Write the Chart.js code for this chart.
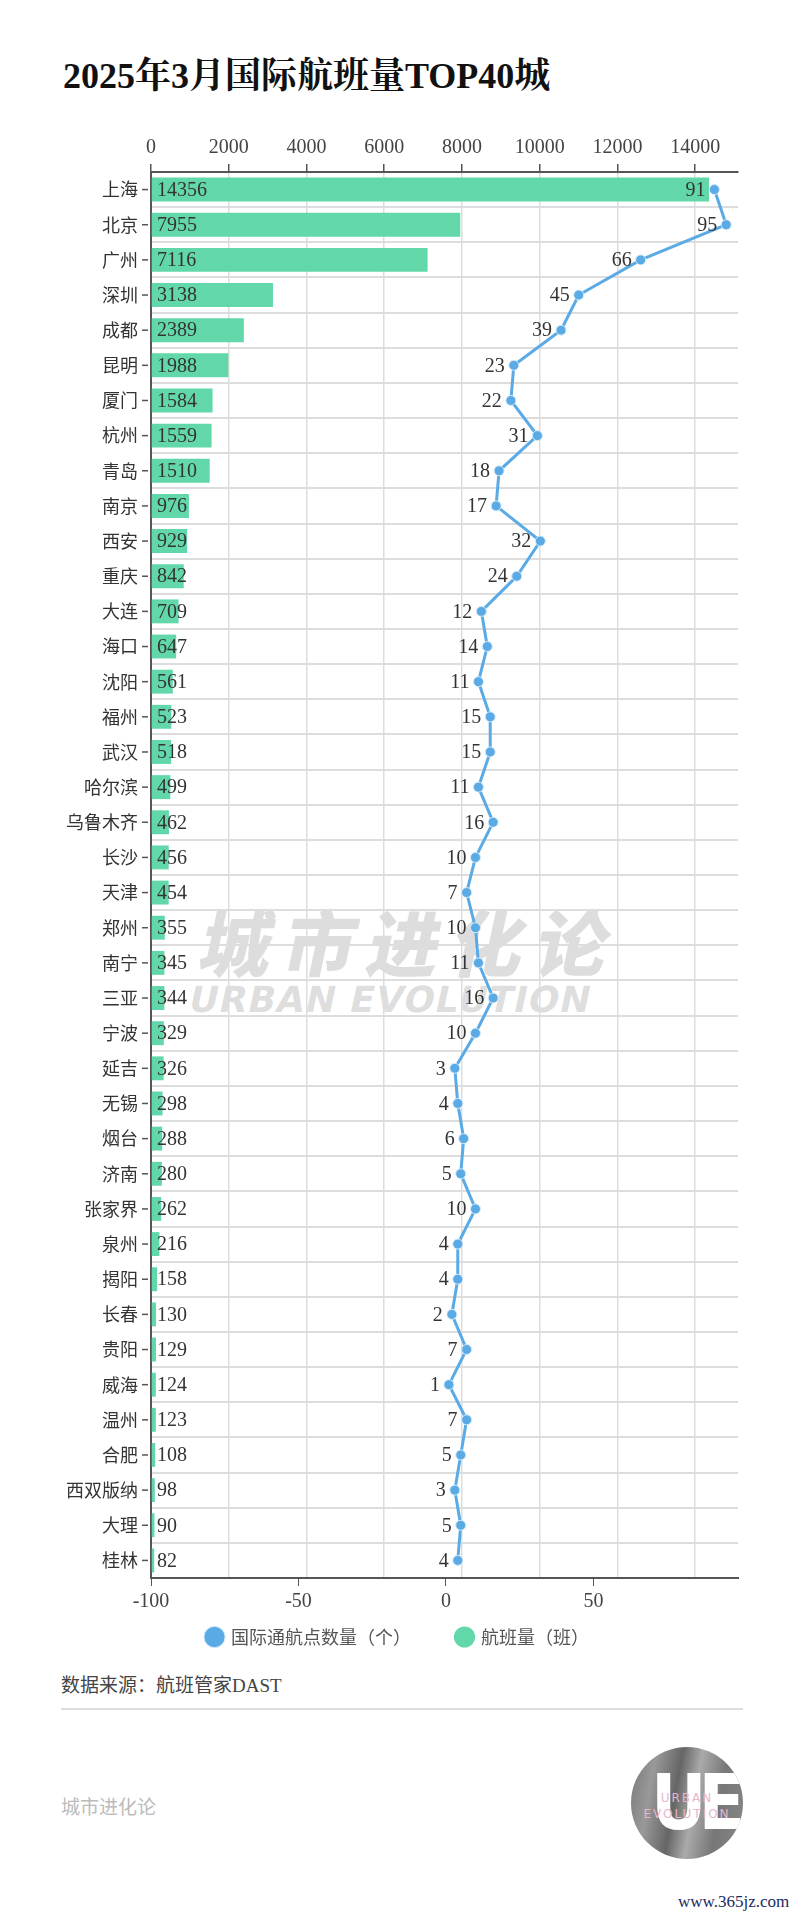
<!DOCTYPE html>
<html>
<head>
<meta charset="utf-8">
<script src="https://cdn.jsdelivr.net/npm/chart.js@4.4.1/dist/chart.umd.min.js"></script>
<style>
  body { margin: 0; background: #fff; width: 800px; height: 1920px; position: relative; overflow: hidden; }
  #title { position: absolute; left: 63px; top: 55px; font: bold 36px 'Liberation Serif', 'Noto Serif CJK SC', 'Noto Sans CJK SC'; color: #111; line-height: 42px; }
  #wm { position: absolute; left: 198px; top: 900px; color: rgba(150,150,150,0.32); transform: skewX(-12deg); font-family: 'Noto Sans CJK SC'; font-weight: 900; }
  #wm .cn { font-size: 72px; letter-spacing: 12px; line-height: 80px; }
  #wm .en { font-size: 36px; letter-spacing: 1px; line-height: 40px; font-family: 'DejaVu Sans'; font-weight: bold; }
  #box { position: absolute; left: 61px; top: 128px; width: 683px; height: 1528px; }
  #src { position: absolute; left: 61px; top: 1670px; font: 19px 'Liberation Serif', 'Noto Sans CJK SC'; color: #444; }
  #sep { position: absolute; left: 61px; top: 1708px; width: 682px; height: 2px; background: #ddd; }
  #brand { position: absolute; left: 61px; top: 1792px; font: 19px 'Noto Sans CJK SC'; color: #bbb; }
  #logo { position: absolute; left: 631px; top: 1747px; width: 112px; height: 112px; border-radius: 50%; overflow: hidden;
    background: linear-gradient(100deg, #777 0%, #999 20%, #666 40%, #aaa 55%, #777 75%, #888 100%); }
  #logo .ue { position: absolute; left: 20px; top: 8px; font: bold 76px 'DejaVu Sans Condensed', 'DejaVu Sans'; color: #fff; letter-spacing: -8px; line-height: 96px; }
  #logo .t { position: absolute; width: 112px; text-align: center; font: 12px 'DejaVu Sans'; color: #e7b6c9; letter-spacing: 2px; }
  #site { position: absolute; left: 678px; top: 1892px; font: 17px 'Liberation Serif', serif; color: #1b2b5e; }
</style>
</head>
<body>
<div id="title">2025年3月国际航班量TOP40城</div>
<div id="wm"><div class="cn">城市进化论</div><div class="en">URBAN EVOLUTION</div></div>
<div id="box"><canvas id="chart"></canvas></div>
<div id="src">数据来源：航班管家DAST</div>
<div id="sep"></div>
<div id="brand">城市进化论</div>
<div id="logo"><div class="ue">UE</div><div class="t" style="top:44px">URBAN</div><div class="t" style="top:60px">EVOLUTION</div></div>
<div id="site">www.365jz.com</div>
<script>
const cities = ['上海', '北京', '广州', '深圳', '成都', '昆明', '厦门', '杭州', '青岛', '南京',
  '西安', '重庆', '大连', '海口', '沈阳', '福州', '武汉', '哈尔滨', '乌鲁木齐', '长沙',
  '天津', '郑州', '南宁', '三亚', '宁波', '延吉', '无锡', '烟台', '济南', '张家界',
  '泉州', '揭阳', '长春', '贵阳', '威海', '温州', '合肥', '西双版纳', '大理', '桂林'];
const flights = [14356, 7955, 7116, 3138, 2389, 1988, 1584, 1559, 1510, 976,
  929, 842, 709, 647, 561, 523, 518, 499, 462, 456,
  454, 355, 345, 344, 329, 326, 298, 288, 280, 262,
  216, 158, 130, 129, 124, 123, 108, 98, 90, 82];
const routes = [91, 95, 66, 45, 39, 23, 22, 31, 18, 17,
  32, 24, 12, 14, 11, 15, 15, 11, 16, 10,
  7, 10, 11, 16, 10, 3, 4, 6, 5, 10,
  4, 4, 2, 7, 1, 7, 5, 3, 5, 4];
const flightTicks = [0, 2000, 4000, 6000, 8000, 10000, 12000, 14000];
const routeTicks = [-100, -50, 0, 50];

const numFont = "'Liberation Serif', serif";
const blue = '#5aaae6';
const green = '#62d8aa';

const labelPlugin = {
  id: 'valueLabels',
  afterDatasetsDraw(chart) {
    const ctx = chart.ctx;
    const x = chart.scales.x;
    const y = chart.scales.y;
    ctx.save();
    ctx.font = '20px ' + numFont;
    ctx.fillStyle = '#333';
    ctx.textBaseline = 'middle';
    ctx.textAlign = 'left';
    chart.getDatasetMeta(1).data.forEach((el, i) => {
      ctx.fillText(flights[i], x.left + 6, el.y + 1);
    });
    ctx.textAlign = 'right';
    chart.getDatasetMeta(0).data.forEach((el, i) => {
      ctx.fillText(routes[i], el.x - 9, el.y + 1);
    });
    // short tick dashes next to the city names
    ctx.strokeStyle = '#555';
    ctx.lineWidth = 1.5;
    y.ticks.forEach((t, i) => {
      const py = y.getPixelForTick(i);
      ctx.beginPath();
      ctx.moveTo(y.right - 9, py);
      ctx.lineTo(y.right - 3, py);
      ctx.stroke();
    });
    ctx.restore();
  }
};

new Chart(document.getElementById('chart'), {
  data: {
    labels: cities,
    datasets: [
      {
        type: 'line',
        label: '国际通航点数量（个）\u3000\u3000\u2002',
        data: routes,
        xAxisID: 'x2',
        yAxisID: 'y',
        order: 0,
        borderColor: blue,
        backgroundColor: blue,
        borderWidth: 3,
        pointRadius: 5,
        pointBackgroundColor: blue,
        pointBorderColor: '#d6eaf8',
        pointBorderWidth: 1,
        tension: 0
      },
      {
        type: 'bar',
        label: '航班量（班）\u3000',
        data: flights,
        xAxisID: 'x',
        yAxisID: 'y',
        order: 1,
        backgroundColor: green,
        categoryPercentage: 1,
        barPercentage: 0.68
      }
    ]
  },
  options: {
    indexAxis: 'y',
    responsive: true,
    maintainAspectRatio: false,
    animation: false,
    layout: { padding: { top: 4, right: 0, left: 0, bottom: 0 } },
    scales: {
      x: {
        position: 'top',
        min: 0,
        max: 15100,
        afterBuildTicks: s => { s.ticks = flightTicks.map(v => ({ value: v })); },
        ticks: { callback: v => String(v), color: '#444', font: { size: 20, family: numFont }, padding: 4, maxRotation: 0 },
        grid: { color: '#dddddd', lineWidth: 1.5, tickColor: '#555', tickLength: 8 },
        border: { color: '#555', width: 2 }
      },
      x2: {
        position: 'bottom',
        min: -100,
        max: 99,
        afterBuildTicks: s => { s.ticks = routeTicks.map(v => ({ value: v })); },
        ticks: { callback: v => String(v), color: '#444', font: { size: 20, family: numFont }, padding: 4, maxRotation: 0 },
        grid: { drawOnChartArea: false, tickColor: '#555', tickLength: 8 },
        border: { color: '#555', width: 2 }
      },
      y: {
        position: 'left',
        afterFit: s => { s.width = 90; },
        ticks: { color: '#333', font: { size: 18, family: "'Noto Sans CJK SC'" }, padding: 13, autoSkip: false },
        grid: { offset: true, color: '#dddddd', lineWidth: 2, drawTicks: false },
        border: { color: '#555', width: 2 }
      }
    },
    plugins: {
      legend: {
        position: 'bottom',
        labels: {
          usePointStyle: true,
          pointStyle: 'circle',
          boxWidth: 15,
          boxHeight: 15,
          padding: 10,
          color: '#555',
          font: { size: 18, family: "'Noto Sans CJK SC'" }
        }
      },
      tooltip: { enabled: false },
      title: { display: false }
    }
  },
  plugins: [labelPlugin]
});
</script>
</body>
</html>
